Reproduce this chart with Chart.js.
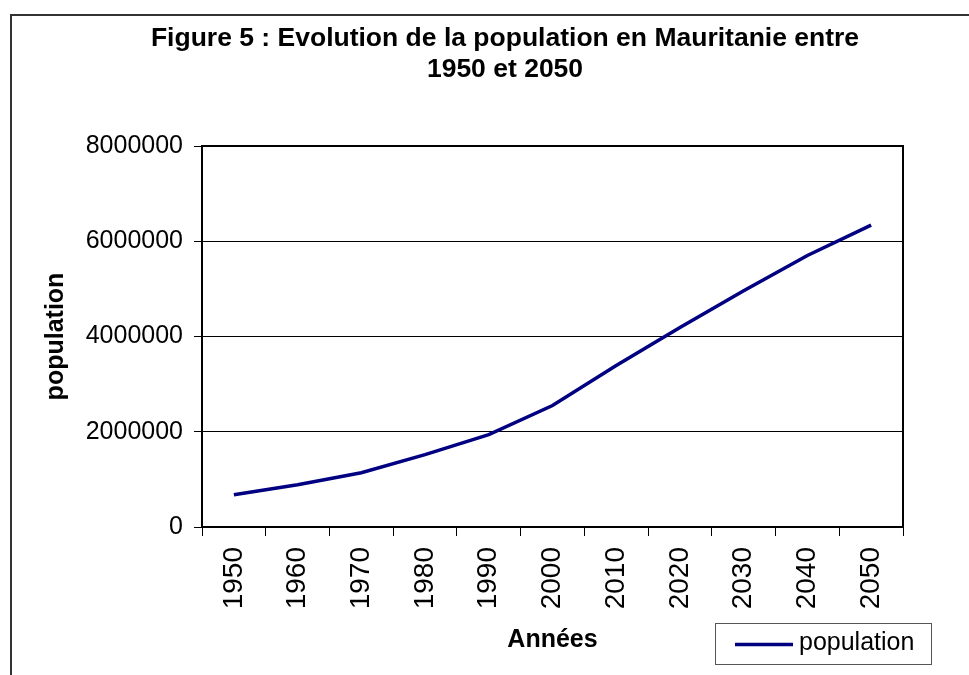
<!DOCTYPE html>
<html><head><meta charset="utf-8">
<script src="https://cdn.jsdelivr.net/npm/chart.js@4.4.1/dist/chart.umd.min.js"></script>
<style>html,body{margin:0;padding:0;background:#fff;} canvas{display:block;}</style>
</head><body>
<canvas id="c" width="969" height="675"></canvas>
<script>
// ---- data ----
const years = ['1950','1960','1970','1980','1990','2000','2010','2020','2030','2040','2050'];
const population = [676000, 886000, 1140000, 1520000, 1940000, 2550000, 3390000, 4190000, 4960000, 5700000, 6340000];
const yTickValues = [0, 2000000, 4000000, 6000000, 8000000];
const titleLines = ['Figure 5 : Evolution de la population en Mauritanie entre', '1950 et 2050'];
const xAxisTitle = 'Années';
const yAxisTitle = 'population';
const seriesName = 'population';

const FONT = "'Liberation Sans', Arial, Helvetica, sans-serif";

const frame = {
  id: 'frame',
  beforeDraw(chart) {
    const ctx = chart.ctx;
    ctx.save();
    ctx.fillStyle = '#fff';
    ctx.fillRect(0, 0, chart.width, chart.height);
    ctx.strokeStyle = '#333';
    ctx.lineWidth = 2;
    ctx.strokeRect(11, 15, 2000, 2000);
    ctx.restore();
  },
  beforeDatasetsDraw(chart) {
    const a = chart.chartArea, ctx = chart.ctx;
    ctx.save();
    ctx.strokeStyle = '#000';
    ctx.lineWidth = 2;
    ctx.strokeRect(Math.round(a.left), Math.round(a.top), Math.round(a.right) - Math.round(a.left), Math.round(a.bottom) - Math.round(a.top));
    ctx.restore();
  },
  afterDraw(chart) {
    const ctx = chart.ctx, ds = chart.data.datasets[0], a = chart.chartArea;
    const bx = Math.round(a.right) - 188, by = 623, bw = 216, bh = 41;
    ctx.save();
    ctx.strokeStyle = '#555';
    ctx.lineWidth = 1;
    ctx.strokeRect(bx + 0.5, by + 0.5, bw, bh);
    ctx.strokeStyle = ds.borderColor;
    ctx.lineWidth = ds.borderWidth;
    ctx.beginPath();
    ctx.moveTo(bx + 20, by + 21.5);
    ctx.lineTo(bx + 78, by + 21.5);
    ctx.stroke();
    ctx.fillStyle = '#000';
    ctx.font = '25px ' + FONT;
    ctx.textBaseline = 'alphabetic';
    ctx.textAlign = 'left';
    ctx.fillText(ds.label, bx + 84, by + 27);
    ctx.restore();
  }
};

new Chart(document.getElementById('c'), {
  type: 'line',
  data: {
    labels: years,
    datasets: [{
      label: seriesName,
      data: population,
      borderColor: '#000080',
      borderWidth: 3.5,
      pointRadius: 0,
      tension: 0,
      fill: false,
      yAxisID: 'y'
    }]
  },
  options: {
    responsive: false,
    animation: false,
    devicePixelRatio: 1,
    layout: { padding: { left: 41, right: 0, top: 0, bottom: 0 } },
    plugins: {
      legend: { display: false },
      tooltip: { enabled: false },
      title: {
        display: true,
        text: titleLines,
        color: '#000',
        font: { family: FONT, size: 26.5, weight: 'bold', lineHeight: 1.17 },
        padding: { top: 23, bottom: 61 }
      }
    },
    scales: {
      x: {
        offset: true,
        grid: { display: true, offset: true, drawOnChartArea: false, drawTicks: true, tickLength: 9, color: '#000', lineWidth: 1 },
        border: { display: true, color: '#000', width: 2 },
        ticks: { autoSkip: false, maxRotation: 90, minRotation: 90, padding: 11, color: '#000', font: { family: FONT, size: 28 } },
        title: { display: true, text: xAxisTitle, color: '#000', font: { family: FONT, size: 25, weight: 'bold', lineHeight: 1.2 }, padding: { top: 0, bottom: 20 } },
        afterFit(s) { s.height = 148; }
      },
      y: {
        position: 'left',
        min: 0, max: 8000000,
        afterBuildTicks(s) { s.ticks = yTickValues.map(v => ({ value: v })); },
        grid: { color: '#000', lineWidth: 1, drawTicks: true, tickLength: 8 },
        border: { display: true, color: '#000', width: 2 },
        ticks: { padding: 11, color: '#000', font: { family: FONT, size: 25 }, callback: v => String(v) },
        title: { display: true, text: yAxisTitle, color: '#000', font: { family: FONT, size: 25, weight: 'bold', lineHeight: 1.2 }, padding: { top: 0, bottom: 0 } },
        afterFit(s) { s.width = 161; }
      },
      yR: {
        type: 'linear',
        position: 'right',
        display: true,
        grid: { display: false, drawTicks: false },
        border: { display: false },
        ticks: { display: false },
        afterFit(s) { s.width = 66; }
      }
    }
  },
  plugins: [frame]
});
</script>
</body></html>
